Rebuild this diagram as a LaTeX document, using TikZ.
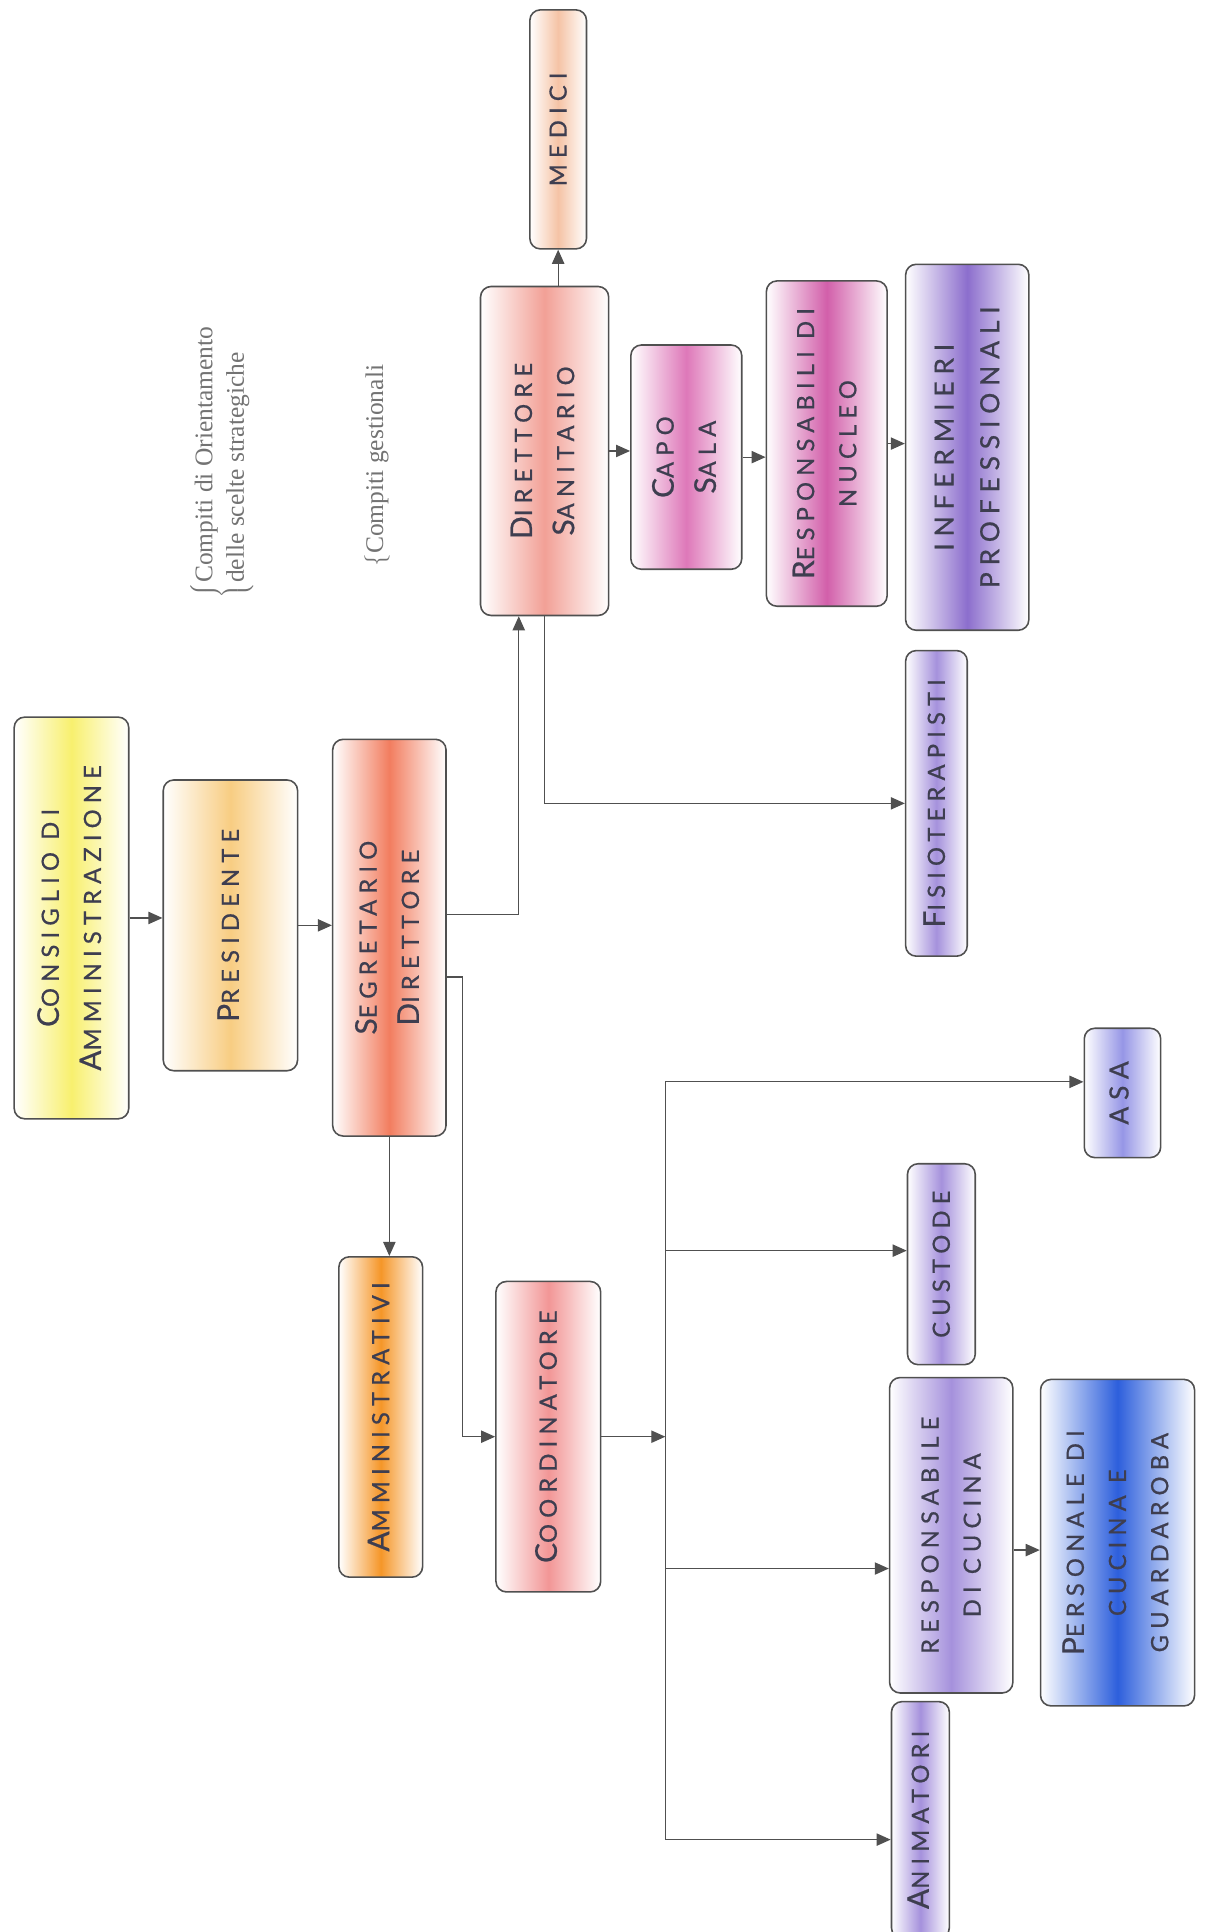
\documentclass[tikz,border=0pt]{standalone}
\usepackage{fontspec}
\usepackage{graphicx}
\setmainfont{Liberation Serif}
\newfontfamily\boxfont[LetterSpace=26, FakeBold=0.7]{Lato}
\usetikzlibrary{arrows.meta,positioning,calc}

\definecolor{txtgray}{RGB}{62,62,80}
\definecolor{linegray}{RGB}{80,80,80}
\definecolor{consYel}{RGB}{248,240,110}
\definecolor{presOr}{RGB}{248,205,130}
\definecolor{segRed}{RGB}{242,125,95}
\definecolor{dsPink}{RGB}{242,160,150}
\definecolor{medPeach}{RGB}{245,195,165}
\definecolor{capoPink}{RGB}{222,120,185}
\definecolor{rnMag}{RGB}{210,95,170}
\definecolor{infPurp}{RGB}{140,110,205}
\definecolor{lavA}{RGB}{165,145,220}
\definecolor{asaBlue}{RGB}{150,150,230}
\definecolor{persBlue}{RGB}{45,95,220}
\definecolor{ammOr}{RGB}{245,150,40}
\definecolor{coordPink}{RGB}{242,150,150}

\newcommand\bigini[1]{{\fontsize{17}{17}\selectfont #1}}
\newcommand\vtext[1]{\rotatebox{90}{\begin{tabular}{@{}c@{}}#1\end{tabular}}}

\tikzset{
  box/.style={draw=linegray, line width=0.9pt, rounded corners=6pt, inner sep=0pt,
    left color=white, right color=white, middle color=#1,
    text=txtgray, font=\boxfont\fontsize{13.5}{24}\selectfont},
  wh/.style 2 args={minimum width=#1*0.02464cm, minimum height=#2*0.02464cm},
  arr/.style={draw=linegray, line width=0.7pt, -{Triangle[length=8pt,width=7pt]}},
  link/.style={draw=linegray, line width=0.7pt},
  note/.style={text=black!55, inner sep=0pt, font=\fontsize{14.5}{18}\selectfont}
}

\begin{document}
\begin{tikzpicture}[x=0.02464cm, y=-0.02464cm]
  \useasboundingbox (0,0) rectangle (979,1568);

  % vertice
  \node[box=consYel, wh={93}{326}] (cda) at (58,745)
    {\vtext{\bigini{C}ONSIGLIO DI\\\bigini{A}MMINISTRAZIONE}};
  \node[box=presOr, wh={109}{236}] (pres) at (187,751)
    {\vtext{\bigini{P}RESIDENTE}};
  \node[box=segRed, wh={92}{322}] (sd) at (316,761)
    {\vtext{\bigini{S}EGRETARIO\\\bigini{D}IRETTORE}};
  \node[box=ammOr, wh={68}{260}] (amm) at (309,1150)
    {\vtext{\bigini{A}MMINISTRATIVI}};
  \node[box=coordPink, wh={85}{252}] (coord) at (445,1166)
    {\vtext{\bigini{C}OORDINATORE}};

  % area sanitaria
  \node[box=dsPink, wh={104}{267}] (ds) at (442,366)
    {\vtext{\bigini{D}IRETTORE\\\bigini{S}ANITARIO}};
  \node[box=medPeach, wh={46}{194}] (med) at (453,105)
    {\vtext{MEDICI}};
  \node[box=capoPink, wh={90}{182}] (capo) at (557,371)
    {\vtext{\bigini{C}APO\\\bigini{S}ALA}};
  \node[box=rnMag, wh={98}{264}] (rn) at (671,360)
    {\vtext{\bigini{R}ESPONSABILI DI\\NUCLEO}};
  \node[box=infPurp, wh={100}{297}, font=\boxfont\fontsize{15}{26}\selectfont] (inf) at (785,363)
    {\vtext{INFERMIERI\\PROFESSIONALI}};
  \node[box=lavA, wh={50}{248}] (fisio) at (760,652)
    {\vtext{\bigini{F}ISIOTERAPISTI}};

  % servizi
  \node[box=asaBlue, wh={62}{105}, font=\boxfont\fontsize{15}{17}\selectfont] (asa) at (911,887)
    {\vtext{ASA}};
  \node[box=lavA, wh={55}{163}] (cust) at (764,1026)
    {\vtext{CUSTODE}};
  \node[box=lavA, wh={100}{256}] (rc) at (772,1246)
    {\vtext{RESPONSABILE\\DI CUCINA}};
  \node[box=persBlue, wh={125}{265}] (pers) at (907,1252)
    {\vtext{\bigini{P}ERSONALE DI\\CUCINA E\\GUARDAROBA}};
  \node[box=lavA, wh={47}{192}] (anim) at (747,1477)
    {\vtext{\bigini{A}NIMATORI}};

  % note
  \node[note, anchor=south] (nota1) at (180,486)
    {\rotatebox{90}{$\left\{\vcenter{\hbox{\begin{tabular}{@{}l@{}}Compiti di Orientamento\\delle scelte strategiche\end{tabular}}}\right.$}};
  \node[note, anchor=south] (nota2) at (306,460)
    {\rotatebox{90}{$\left\{\vcenter{\hbox{Compiti gestionali}}\right.$}};

  % collegamenti
  \coordinate (sdUp) at ([yshift=0.468cm]sd.east);
  \coordinate (sdDn) at ([yshift=-0.788cm]sd.east);
  \coordinate (sdJog) at ([xshift=0.32cm]sdDn);
  \coordinate (dsIn) at ([xshift=-0.517cm]ds.south);
  \coordinate (rcOut) at ([yshift=-0.296cm]rc.east);
  \coordinate (busT) at (540,878);
  \coordinate (bus2) at (540,1015);
  \coordinate (bus3) at (540,1273);
  \coordinate (busB) at (540,1493);

  \draw[arr] (cda.east) -- (cda.east -| pres.west);
  \draw[arr] (pres.east) -- (pres.east -| sd.west);
  \draw[arr] (sd.south) -- (sd.south |- amm.north);
  \draw[arr] (sdUp) -| (dsIn);
  \draw[arr] (sdDn) -- (sdJog) |- (coord.west);

  \draw[arr] (ds.north -| med.south) -- (med.south);
  \draw[arr] (ds.east) -- (ds.east -| capo.west);
  \draw[arr] (capo.east) -- (capo.east -| rn.west);
  \draw[arr] (rn.east) -- (rn.east -| inf.west);
  \draw[arr] (ds.south) |- (fisio.west);

  \draw[link] (busT) -- (busB);
  \draw[arr] (coord.east) -- (coord.east -| busT);
  \draw[arr] (busT) -- (busT -| asa.west);
  \draw[arr] (bus2) -- (bus2 -| cust.west);
  \draw[arr] (bus3) -- (bus3 -| rc.west);
  \draw[arr] (busB) -- (busB -| anim.west);
  \draw[arr] (rcOut) -- (rcOut -| pers.west);
\end{tikzpicture}
\end{document}
